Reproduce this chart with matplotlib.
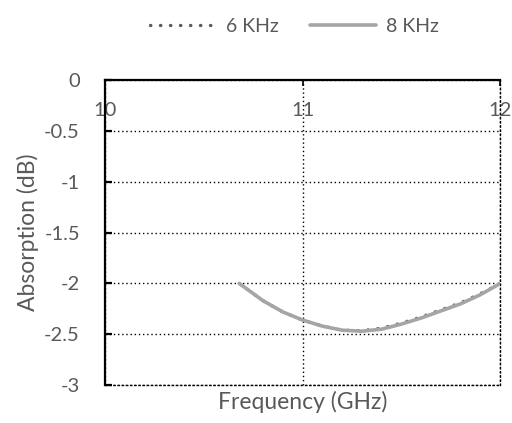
import matplotlib.pyplot as plt

plt.rcParams['font.family'] = ['Lato', 'DejaVu Sans']

freq = [10.68, 10.8, 10.9, 11.0, 11.1, 11.2, 11.3, 11.4, 11.5, 11.6, 11.7, 11.8, 11.9, 12.0]
abs_6k = [-2.00, -2.17, -2.28, -2.36, -2.42, -2.46, -2.465, -2.44, -2.39, -2.33, -2.26, -2.19, -2.10, -2.00]
abs_8k = [-2.00, -2.17, -2.28, -2.36, -2.42, -2.46, -2.47, -2.45, -2.40, -2.34, -2.27, -2.20, -2.11, -2.00]
xticks = [10, 11, 12]
yticks = [0, -0.5, -1, -1.5, -2, -2.5, -3]
grey = '#595959'

fig = plt.figure(figsize=(5.12, 4.23), dpi=100)
ax = fig.add_axes([0.205, 0.0898, 0.772, 0.72])

ax.plot(freq, abs_6k, color='#5a5a5a', lw=2.4, linestyle=(0, (0.1, 2.9)),
        dash_capstyle='round', label='6 KHz', zorder=3)
ax.plot(freq, abs_8k, color='#a5a5a5', lw=2.6, solid_capstyle='round',
        label='8 KHz', zorder=4)

ax.set_xlim(10, 12)
ax.set_ylim(-3, 0)
ax.set_xticks(xticks)
ax.set_yticks(yticks)
ax.set_yticklabels([f'{t:g}' for t in yticks])

ax.grid(True, color='black', linestyle=(0, (1, 2)), lw=1.0)
for s in ['left', 'top']:
    ax.spines[s].set_linewidth(1.6)
for s in ['bottom', 'right']:
    ax.spines[s].set_linestyle((0, (1, 2)))
    ax.spines[s].set_linewidth(1.0)

ax.tick_params(axis='y', direction='in', length=5, width=1.6, labelsize=14.5,
               labelcolor=grey, pad=18)
ax.tick_params(axis='x', top=True, bottom=False, labeltop=True, labelbottom=False,
               direction='in', length=4, width=1.2, labelsize=14.5, labelcolor=grey,
               pad=-28)

ax.set_xlabel('Frequency (GHz)', fontsize=16.5, color=grey, labelpad=4)
ax.set_ylabel('Absorption (dB)', fontsize=16.5, color=grey, labelpad=4)

fig.legend(loc='upper center', bbox_to_anchor=(0.575, 1.0), ncol=2, frameon=False,
           fontsize=14, labelcolor=grey, handlelength=3.4, columnspacing=1.6,
           handletextpad=0.5)

fig.savefig('out.png', dpi=100)
